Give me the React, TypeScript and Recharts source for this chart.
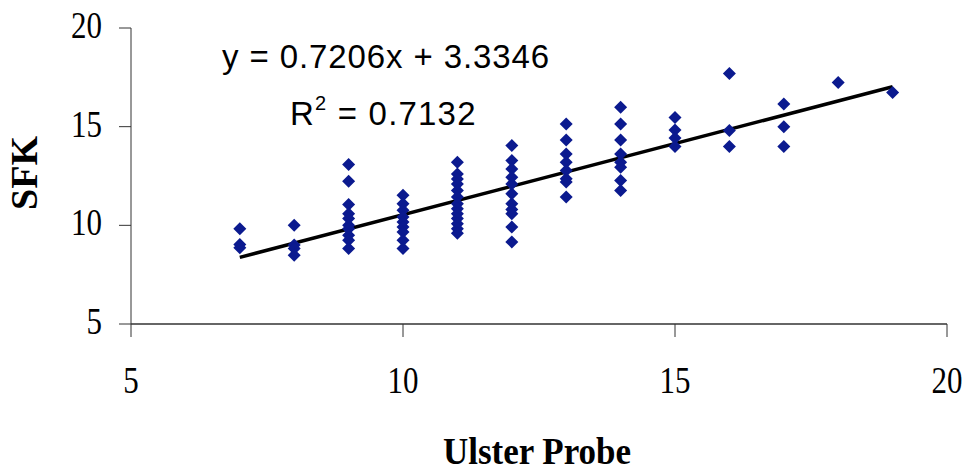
import React from 'react';
import {
  ScatterChart,
  Scatter,
  XAxis,
  YAxis,
  ReferenceLine,
  Label,
} from 'recharts';

// Ulster Probe scores (x) and the SFK readings measured at each score
const probeScores = [7, 8, 9, 10, 11, 12, 13, 14, 15, 16, 17, 18, 19];
const sfkAt7 = [9.83, 9.03, 8.87];
const sfkAt8 = [10.0, 9.0, 8.82, 8.48];
const sfkAt9 = [13.08, 12.24, 11.05, 10.59, 10.34, 10.0, 9.83, 9.5, 9.24, 8.82];
const sfkAt10 = [11.52, 11.1, 10.76, 10.42, 10.17, 9.91, 9.66, 9.24, 8.82];
const sfkAt11 = [13.2, 12.6, 12.35, 12.1, 11.77, 11.43, 11.1, 10.84, 10.59, 10.34, 10.08, 9.83, 9.6];
const sfkAt12 = [14.04, 13.28, 12.86, 12.44, 12.1, 11.6, 11.1, 10.8, 10.59, 9.91, 9.16];
const sfkAt13 = [15.14, 14.33, 13.62, 13.2, 12.78, 12.36, 12.19, 11.43];
const sfkAt14 = [15.98, 15.14, 14.33, 13.62, 13.2, 12.94, 12.27, 11.77];
const sfkAt15 = [15.47, 14.83, 14.43, 13.99];
const sfkAt16 = [17.69, 14.8, 13.99];
const sfkAt17 = [16.15, 15.0, 13.99];
const sfkAt18 = [17.24];
const sfkAt19 = [16.73];

const sfkGroups = [
  sfkAt7, sfkAt8, sfkAt9, sfkAt10, sfkAt11, sfkAt12, sfkAt13,
  sfkAt14, sfkAt15, sfkAt16, sfkAt17, sfkAt18, sfkAt19,
];

// Linear trend reported on the chart
const trendSlope = 0.7206;
const trendIntercept = 3.3346;
const rSquared = '0.7132';

const axisTicks = [5, 10, 15, 20];

const points = probeScores.flatMap((score, i) =>
  sfkGroups[i].map((sfk) => ({ x: score, y: sfk }))
);

const trendStart = probeScores[0];
const trendEnd = probeScores[probeScores.length - 1];

const MARKER = '#0B1A8F';
const AXIS = '#333';
const SERIF = "'Liberation Serif', 'Times New Roman', serif";
const SANS = "'Liberation Sans', Arial, sans-serif";

// Diamond marker like the spreadsheet default
const Diamond = (props: any) => {
  const { cx, cy } = props;
  const r = 6.5;
  return (
    <polygon
      points={`${cx},${cy - r} ${cx + r},${cy} ${cx},${cy + r} ${cx - r},${cy}`}
      fill={MARKER}
    />
  );
};

const YTick = (props: any) => {
  const { x, y, payload } = props;
  return (
    <g transform={`translate(${x},${y + 10}) scale(1,1.24)`}>
      <text x={0} y={0} textAnchor="end" fontFamily={SERIF} fontSize={31} fill="#000">
        {payload.value}
      </text>
    </g>
  );
};

const XTick = (props: any) => {
  const { x, y, payload } = props;
  return (
    <g transform={`translate(${x},${y + 54}) scale(1,1.24)`}>
      <text x={0} y={0} textAnchor="middle" fontFamily={SERIF} fontSize={31} fill="#000">
        {payload.value}
      </text>
    </g>
  );
};

const XTitle = (props: any) => {
  const { viewBox } = props;
  const cx = viewBox.x + viewBox.width / 2;
  return (
    <g transform={`translate(${cx - 2},${viewBox.y + 140}) scale(1,1.1)`}>
      <text
        x={0}
        y={0}
        textAnchor="middle"
        fontFamily={SERIF}
        fontWeight="bold"
        fontSize={35}
        fill="#000"
      >
        Ulster Probe
      </text>
    </g>
  );
};

const YTitle = (props: any) => {
  const { viewBox } = props;
  const cy = viewBox.y + viewBox.height / 2;
  return (
    <text
      x={0}
      y={0}
      transform={`translate(37,${cy - 3}) rotate(-90)`}
      textAnchor="middle"
      fontFamily={SERIF}
      fontWeight="bold"
      fontSize={38}
      fill="#000"
    >
      SFK
    </text>
  );
};

export default function App() {
  const W = 970;
  const H = 473;
  return (
    <div style={{ position: 'relative', width: W, height: H, margin: '-8px 0 0 -8px' }}>
      <ScatterChart
        width={W}
        height={H}
        margin={{ top: 28, right: 23, bottom: 0, left: 0 }}
      >
        <XAxis
          type="number"
          dataKey="x"
          domain={[5, 20]}
          ticks={axisTicks}
          height={149}
          tickSize={13}
          axisLine={{ stroke: AXIS, strokeWidth: 1.5 }}
          tickLine={{ stroke: AXIS }}
          tick={<XTick />}
        >
          <Label content={<XTitle />} />
        </XAxis>
        <YAxis
          type="number"
          dataKey="y"
          domain={[5, 20]}
          ticks={axisTicks}
          width={131}
          tickSize={12}
          tickMargin={17}
          axisLine={{ stroke: AXIS }}
          tickLine={{ stroke: AXIS }}
          tick={<YTick />}
        >
          <Label content={<YTitle />} />
        </YAxis>
        <ReferenceLine
          segment={[
            { x: trendStart, y: trendSlope * trendStart + trendIntercept },
            { x: trendEnd, y: trendSlope * trendEnd + trendIntercept },
          ]}
          stroke="#000"
          strokeWidth={3.5}
        />
        <Scatter data={points} shape={<Diamond />} isAnimationActive={false} />
      </ScatterChart>
      <svg
        width={W}
        height={H}
        style={{ position: 'absolute', left: 0, top: 0, pointerEvents: 'none' }}
      >
        <text x={222} y={68} fontFamily={SANS} fontSize={33} letterSpacing={0.9} fill="#000">
          {`y = ${trendSlope}x + ${trendIntercept}`}
        </text>
        <text x={290} y={125} fontFamily={SANS} fontSize={33} letterSpacing={1.2} fill="#000">
          R
          <tspan fontSize={20} dy={-15}>
            2
          </tspan>
          <tspan dy={15}>{` = ${rSquared}`}</tspan>
        </text>
      </svg>
    </div>
  );
}
